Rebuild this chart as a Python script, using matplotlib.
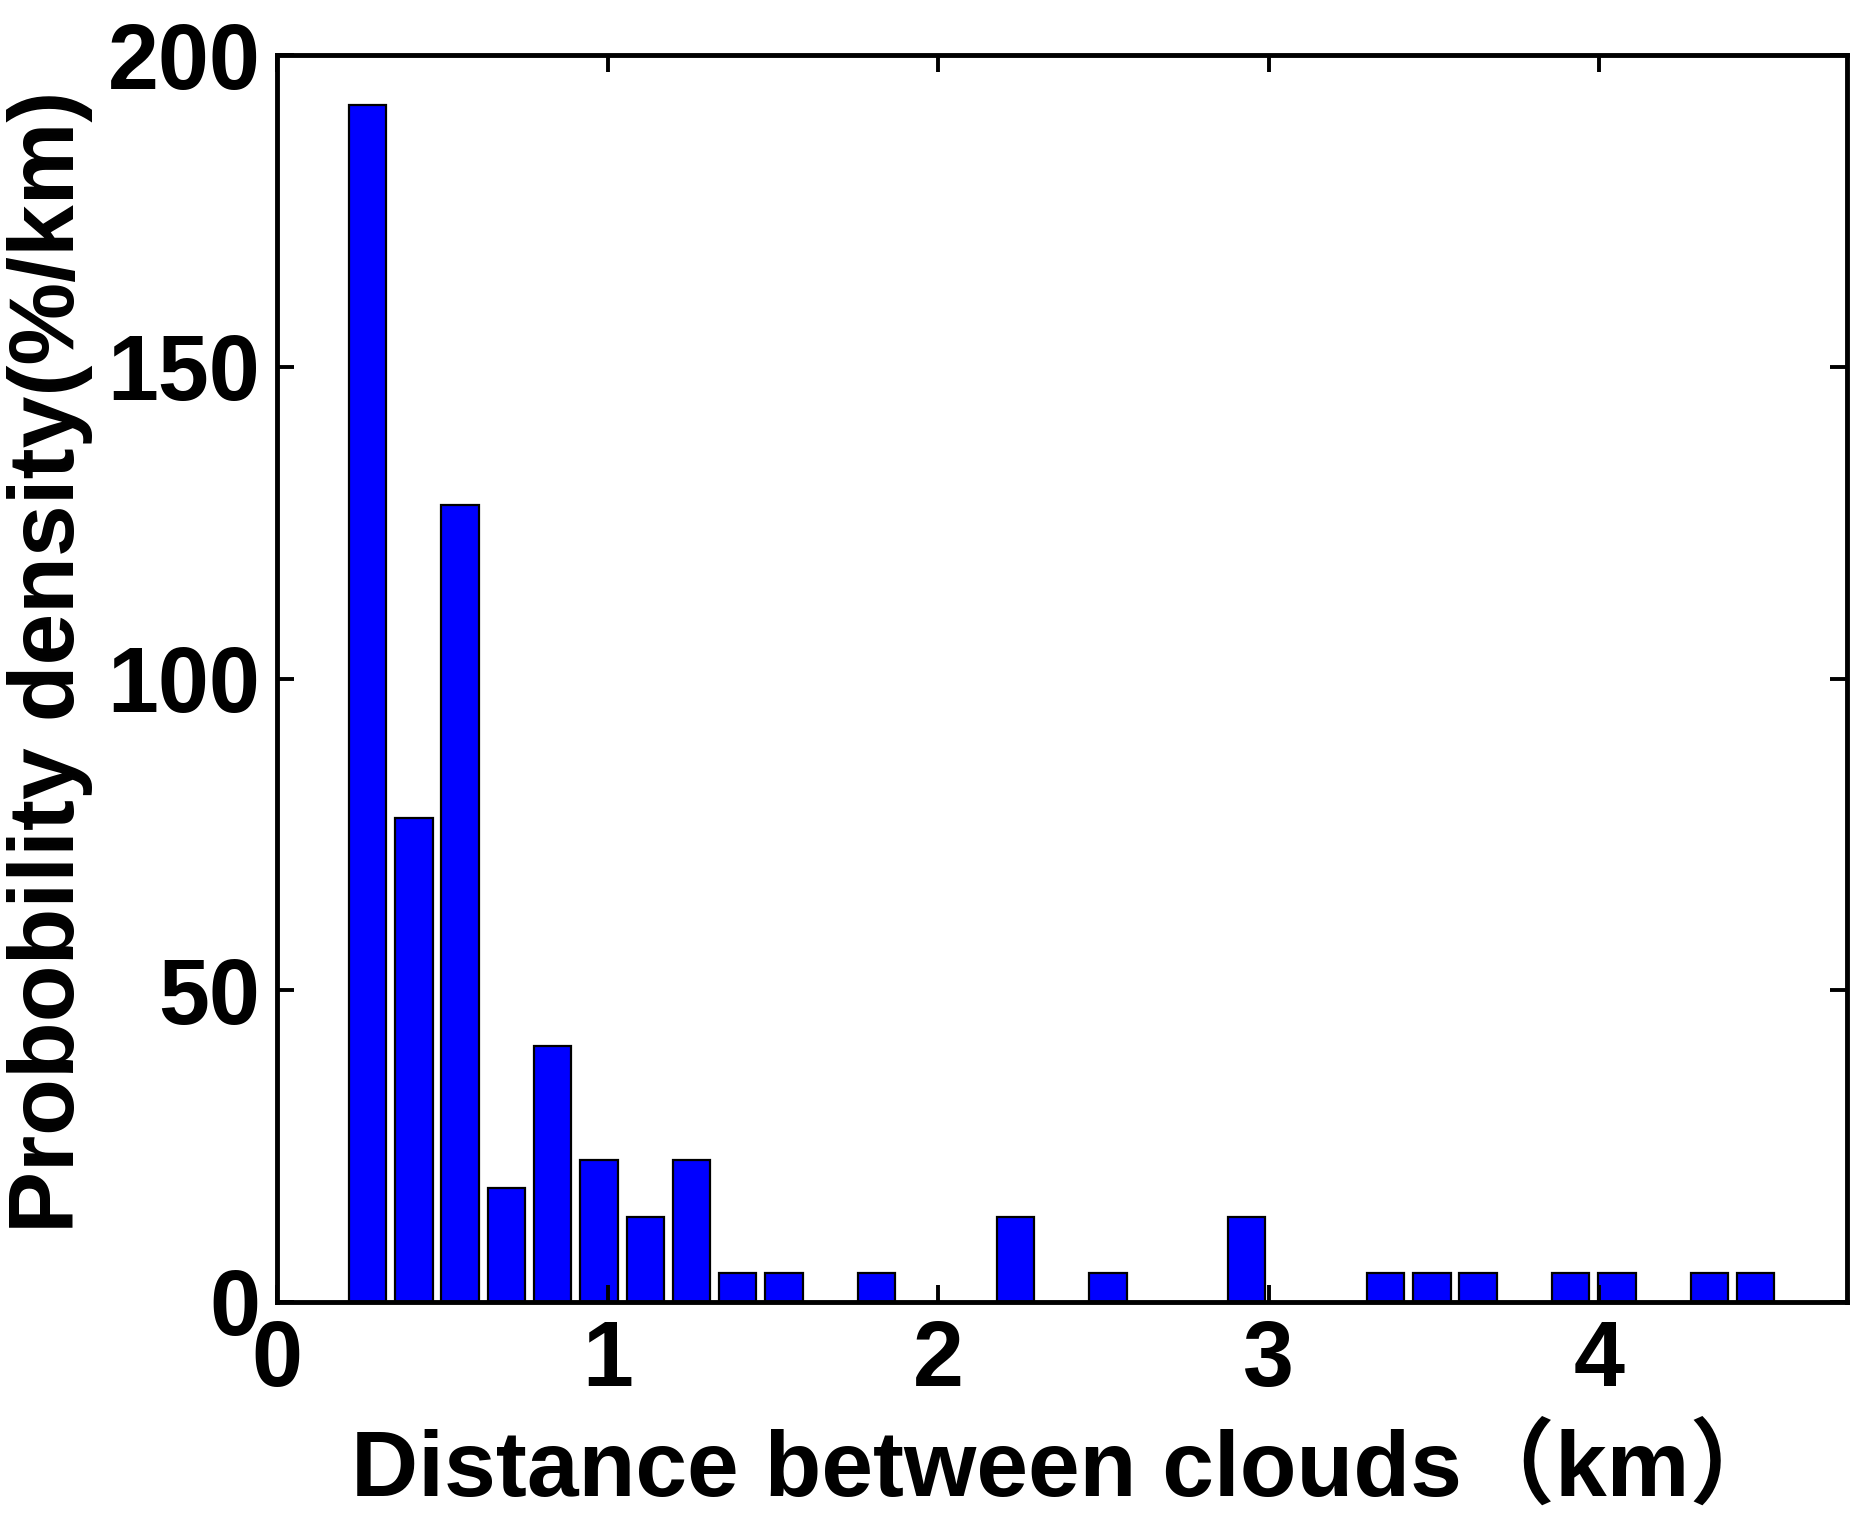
import matplotlib
matplotlib.use('Agg')
import matplotlib.pyplot as plt

# distances between clouds (bin centres, km) and probability density (%/km)
centers = [0.274, 0.414, 0.554, 0.694, 0.834, 0.974, 1.114, 1.254, 1.394, 1.534,
           1.814, 2.234, 2.514, 2.934, 3.354, 3.494, 3.634, 3.914, 4.054, 4.334, 4.474]
density = [192.0, 77.7, 127.8, 18.3, 41.1, 22.8, 13.7, 22.8, 4.6, 4.6,
           4.6, 13.7, 4.6, 13.7, 4.6, 4.6, 4.6, 4.6, 4.6, 4.6, 4.6]
xticks = [0, 1, 2, 3, 4]
yticks = [0, 50, 100, 150, 200]

fam = ['Liberation Sans', 'Noto Sans CJK SC', 'DejaVu Sans']
plt.rcParams['font.family'] = fam
plt.rcParams['font.weight'] = 'bold'

fig = plt.figure(figsize=(18.71, 15.20), dpi=100)
ax = fig.add_axes([277 / 1871, 1 - 1302 / 1520, 1570 / 1871, 1247 / 1520])

ax.bar(centers, density, width=0.113, color='#0000ff', edgecolor='black', linewidth=1.6)

ax.set_xlim(0, 4.75)
ax.set_ylim(0, 200)
ax.set_xticks(xticks)
ax.set_yticks(yticks)
ax.tick_params(direction='in', length=12, width=2.8, labelsize=66,
               top=True, right=True, pad=12)
for lab in ax.get_xticklabels() + ax.get_yticklabels():
    lab.set_fontweight('bold')
for s in ax.spines.values():
    s.set_linewidth(3.5)

ax.set_xlabel('Distance between clouds（km）', fontsize=67, fontweight='bold',
              family=fam)
ax.set_ylabel('Probobility density(%/km)', fontsize=67, fontweight='bold',
              family=fam)
ax.xaxis.set_label_coords(0.503, -0.099)
ax.yaxis.set_label_coords(-0.117, 0.513)

fig.savefig('out.png', dpi=100)
